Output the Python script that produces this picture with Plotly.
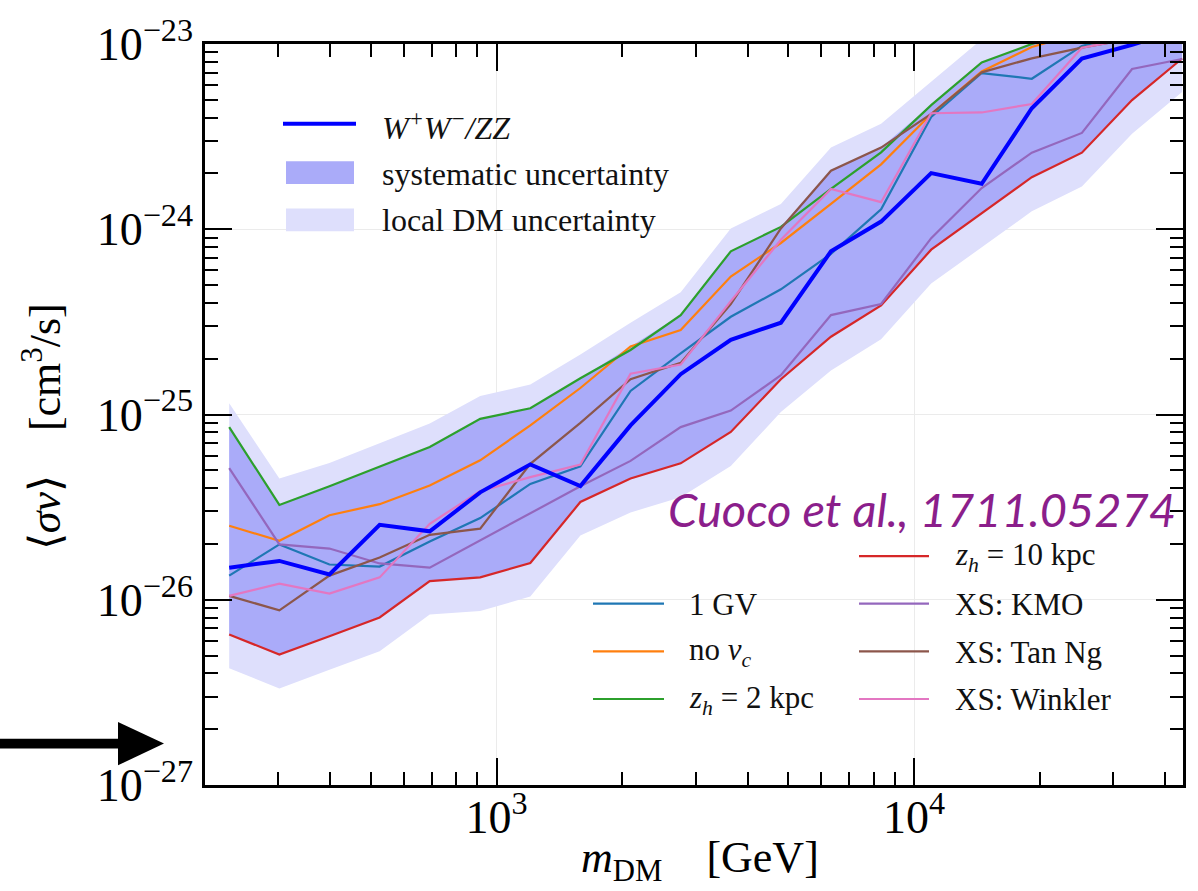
import plotly.graph_objects as go
import numpy as np

# ---------------- data ----------------
m_dm = [229, 302, 398, 525, 692, 914, 1205, 1588, 2094, 2761, 3640, 4798,
        6324, 8337, 10990, 14520, 19140, 25230, 33270, 43850]

ww_zz = [1.49e-26, 1.62e-26, 1.37e-26, 2.54e-26, 2.34e-26, 3.80e-26, 5.38e-26, 4.11e-26,
         8.73e-26, 1.65e-25, 2.53e-25, 3.13e-25, 7.60e-25, 1.10e-24, 2.01e-24, 1.76e-24,
         4.50e-24, 8.35e-24, 9.9e-24, 1.2e-23]

one_gv = [1.35e-26, 1.99e-26, 1.55e-26, 1.51e-26, 2.06e-26, 2.76e-26, 4.22e-26, 5.25e-26,
          1.34e-25, 2.14e-25, 3.37e-25, 4.74e-25, 7.36e-25, 1.28e-24, 4.04e-24, 6.97e-24,
          6.49e-24, 9.76e-24, 1.15e-23, 1.3e-23]

no_vc = [2.51e-26, 2.08e-26, 2.86e-26, 3.28e-26, 4.14e-26, 5.66e-26, 8.73e-26, 1.39e-25,
         2.33e-25, 2.86e-25, 5.56e-25, 8.43e-25, 1.37e-24, 2.24e-24, 4.19e-24, 7.10e-24,
         9.64e-24, 1.15e-23, 1.3e-23, 1.45e-23]

zh_2 = [8.55e-26, 3.25e-26, 4.10e-26, 5.25e-26, 6.67e-26, 9.48e-26, 1.08e-25, 1.57e-25,
        2.23e-25, 3.44e-25, 7.60e-25, 1.03e-24, 1.65e-24, 2.60e-24, 4.68e-24, 7.95e-24,
        1.0e-23, 1.2e-23, 1.3e-23, 1.4e-23]

zh_10 = [6.49e-27, 5.06e-27, 6.35e-27, 8.02e-27, 1.26e-26, 1.32e-26, 1.58e-26, 3.37e-26,
         4.51e-26, 5.45e-26, 8.05e-26, 1.55e-25, 2.63e-25, 3.88e-25, 7.76e-25, 1.22e-24,
         1.91e-24, 2.59e-24, 4.98e-24, 8.35e-24]

xs_kmo = [5.14e-26, 1.99e-26, 1.89e-26, 1.57e-26, 1.49e-26, 2.09e-26, 2.90e-26, 4.10e-26,
          5.62e-26, 8.55e-26, 1.05e-25, 1.63e-25, 3.44e-25, 3.95e-25, 8.95e-25, 1.67e-24,
          2.59e-24, 3.31e-24, 7.33e-24, 8.30e-24]

xs_tanng = [1.05e-26, 8.77e-27, 1.35e-26, 1.69e-26, 2.24e-26, 2.42e-26, 5.42e-26, 9.02e-26,
            1.55e-25, 1.90e-25, 3.95e-25, 1.01e-24, 2.07e-24, 2.76e-24, 4.19e-24, 7.03e-24,
            8.37e-24, 9.55e-24, 1.07e-23, 1.15e-23]

xs_winkler = [1.05e-26, 1.22e-26, 1.08e-26, 1.32e-26, 2.57e-26, 3.86e-26, 4.59e-26, 5.37e-26,
              1.66e-25, 1.86e-25, 4.09e-25, 8.77e-25, 1.65e-24, 1.40e-24, 4.23e-24, 4.27e-24,
              4.74e-24, 9.55e-24, 1.07e-23, 1.15e-23]

local_dm_upper = [1.15e-25, 4.51e-26, 5.48e-26, 7.01e-26, 8.95e-26, 1.26e-25, 1.45e-25, 2.11e-25,
                  3.13e-25, 4.57e-25, 1.01e-24, 1.37e-24, 2.76e-24, 3.71e-24, 6.28e-24, 1.06e-23,
                  1.3e-23, 1.5e-23, 1.7e-23, 1.9e-23]
local_dm_lower = [4.27e-27, 3.32e-27, 4.19e-27, 5.28e-27, 8.32e-27, 8.69e-27, 1.04e-26, 2.22e-26,
                  2.96e-26, 3.57e-26, 5.28e-26, 1.03e-25, 1.73e-25, 2.55e-25, 5.09e-25, 8.02e-25,
                  1.25e-24, 1.70e-24, 3.28e-24, 5.51e-24]

variation_names = ["1 GV", "no <i>v<sub>c</sub></i>", "<i>z<sub>h</sub></i> = 2 kpc",
                   "<i>z<sub>h</sub></i> = 10 kpc", "XS: KMO", "XS: Tan Ng", "XS: Winkler"]
variation_values = [one_gv, no_vc, zh_2, zh_10, xs_kmo, xs_tanng, xs_winkler]
variation_colors = ["#1f77b4", "#ff7f0e", "#2ca02c", "#d62728", "#9467bd", "#8c564b", "#e377c2"]

y_tick_vals = [1e-27, 1e-26, 1e-25, 1e-24, 1e-23]
y_tick_text = ["10<sup>−27</sup>", "10<sup>−26</sup>", "10<sup>−25</sup>",
               "10<sup>−24</sup>", "10<sup>−23</sup>"]
x_tick_vals = [1e3, 1e4]
x_tick_text = ["10<sup>3</sup>", "10<sup>4</sup>"]

# systematic band = envelope of all propagation / cross-section variations
all_curves = np.array(variation_values + [ww_zz])
sys_upper = all_curves.max(axis=0)
sys_lower = all_curves.min(axis=0)

DARK = "#aaabf9"
LIGHT = "#dedffc"
SERIF = "Liberation Serif"

fig = go.Figure()

# local DM uncertainty band
fig.add_trace(go.Scatter(x=m_dm, y=local_dm_lower, mode="lines", line=dict(width=0, color=LIGHT),
                         hoverinfo="skip"))
fig.add_trace(go.Scatter(x=m_dm, y=local_dm_upper, mode="lines", line=dict(width=0, color=LIGHT),
                         fill="tonexty", fillcolor=LIGHT, hoverinfo="skip"))
# systematic band
fig.add_trace(go.Scatter(x=m_dm, y=sys_lower, mode="lines", line=dict(width=0, color=DARK),
                         hoverinfo="skip"))
fig.add_trace(go.Scatter(x=m_dm, y=sys_upper, mode="lines", line=dict(width=0, color=DARK),
                         fill="tonexty", fillcolor=DARK, hoverinfo="skip"))

for name, vals, col in zip(variation_names, variation_values, variation_colors):
    fig.add_trace(go.Scatter(x=m_dm, y=vals, mode="lines", name=name,
                             line=dict(color=col, width=2.2)))

fig.add_trace(go.Scatter(x=m_dm, y=ww_zz, mode="lines", name="W+W-/ZZ",
                         line=dict(color="#0000ff", width=4)))

# ---------------- layout ----------------
L, R, T, B = 205, 1183, 33, 785


def px(x):
    return (x - L) / (R - L)


def py(y):
    return (B - y) / (B - T)


minor_x = [k * 10 ** e for e in (2, 3, 4) for k in range(2, 10) if 200 <= k * 10 ** e <= 44000]
minor_y = [k * 10.0 ** e for e in (-27, -26, -25, -24) for k in range(2, 10)]

axis_common = dict(type="log", showline=True, linecolor="black", linewidth=2.5,
                   mirror="allticks", ticks="inside", ticklen=27, tickwidth=2,
                   tickcolor="black", showgrid=True, gridcolor="#ebebeb", gridwidth=1,
                   zeroline=False, ticklabeloverflow="allow",
                   tickfont=dict(family=SERIF, size=46, color="black"))

fig.update_xaxes(range=[np.log10(200.4), np.log10(44060)], tickmode="array",
                 tickvals=x_tick_vals, ticktext=x_tick_text, ticklabelstandoff=-10,
                 minor=dict(tickmode="array", tickvals=minor_x, ticks="inside", ticklen=13,
                            tickwidth=1.5, tickcolor="black", showgrid=False),
                 **axis_common)
fig.update_yaxes(range=[-27, -23], tickmode="array", tickvals=y_tick_vals,
                 ticktext=y_tick_text,
                 minor=dict(tickmode="array", tickvals=minor_y, ticks="inside", ticklen=13,
                            tickwidth=1.5, tickcolor="black", showgrid=False),
                 **axis_common)

shapes = []
annotations = []

# legend 1 (top left)
shapes.append(dict(type="line", xref="paper", yref="paper", x0=px(283), x1=px(356),
                   y0=py(114), y1=py(114), line=dict(color="#0000ff", width=4)))
shapes.append(dict(type="rect", xref="paper", yref="paper", x0=px(286), x1=px(354),
                   y0=py(175), y1=py(152), fillcolor=DARK, line=dict(width=0)))
shapes.append(dict(type="rect", xref="paper", yref="paper", x0=px(286), x1=px(354),
                   y0=py(223), y1=py(200), fillcolor=LIGHT, line=dict(width=0)))
leg1 = [("<i>W<sup>+</sup>W<sup>−</sup>/ZZ</i>", 116), ("systematic uncertainty", 165),
        ("local DM uncertainty", 212)]
for txt, yy in leg1:
    annotations.append(dict(text=txt, xref="paper", yref="paper", x=px(380), y=py(yy),
                            xanchor="left", yanchor="middle", showarrow=False,
                            font=dict(family=SERIF, size=32, color="#111")))

# legend 2 (bottom right, two columns)
col1_rows = [601, 649.3, 697.7]
col2_rows = [552.7, 601, 649.3, 697.7]
slots = [(593, 664, 687, y) for y in col1_rows] + [(859, 929, 953, y) for y in col2_rows]
for (lx0, lx1, tx, yy), name, col in zip(slots, variation_names, variation_colors):
    shapes.append(dict(type="line", xref="paper", yref="paper", x0=px(lx0), x1=px(lx1),
                       y0=py(yy), y1=py(yy), line=dict(color=col, width=2.2)))
    annotations.append(dict(text=name, xref="paper", yref="paper", x=px(tx), y=py(yy + 1),
                            xanchor="left", yanchor="middle", showarrow=False,
                            font=dict(family=SERIF, size=31, color="#111")))

# citation
annotations.append(dict(text="<i>Cuoco et al., 1711.05274</i>", xref="paper", yref="paper",
                        x=px(921.5), y=py(505), xanchor="center", yanchor="middle",
                        showarrow=False, font=dict(family="Lato", size=47, color="#8b1e8b")))

# axis titles
annotations.append(dict(text="<i>m</i><sub>DM</sub>\u00a0\u00a0\u00a0\u00a0[GeV]", xref="paper",
                        yref="paper", x=px(700), y=py(862), xanchor="center", yanchor="middle",
                        showarrow=False, font=dict(family=SERIF, size=44, color="black")))
annotations.append(dict(text="⟨<i>σv</i>⟩\u00a0\u00a0\u00a0\u00a0[cm<sup>3</sup>/s]", xref="paper",
                        yref="paper", x=px(42), y=py(422), xanchor="center", yanchor="middle",
                        textangle=-90, showarrow=False,
                        font=dict(family=SERIF, size=44, color="black")))

# black arrow on the left
shapes.append(dict(type="rect", xref="paper", yref="paper", x0=px(0), x1=px(122),
                   y0=py(748), y1=py(738), fillcolor="black", line=dict(width=0)))
shapes.append(dict(type="path", xref="paper", yref="paper",
                   path=f"M {px(118)},{py(721)} L {px(164)},{py(743)} L {px(118)},{py(765)} Z",
                   fillcolor="black", line=dict(width=0)))

fig.update_layout(width=1198, height=891, margin=dict(l=L, r=1198 - R, t=T, b=891 - B),
                  plot_bgcolor="white", paper_bgcolor="white", showlegend=False,
                  font=dict(family=SERIF, color="black"), shapes=shapes,
                  annotations=annotations)

fig.write_html("out.html")
